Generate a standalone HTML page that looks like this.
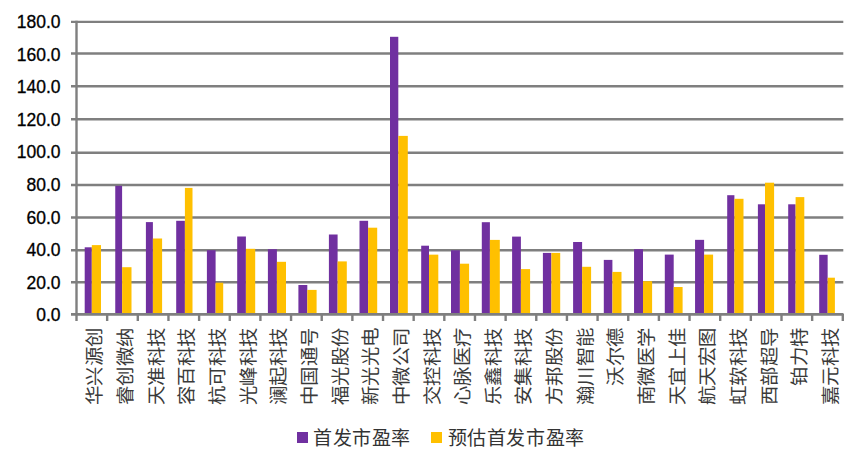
<!DOCTYPE html>
<html lang="zh-CN"><head><meta charset="utf-8">
<style>
html,body{margin:0;padding:0;background:#fff;}
body{width:865px;height:458px;overflow:hidden;position:relative;}
svg{position:absolute;left:0;top:0;}
.yl{font-family:"Liberation Sans",sans-serif;font-size:17.5px;fill:#000;stroke:#000;stroke-width:0.3px;}
.cl{font-family:"Liberation Serif",serif;font-size:20px;fill:#3a3a3a;}
.lg{font-family:"Liberation Serif",serif;font-size:19px;letter-spacing:0.55px;fill:#333;}
</style></head><body>
<svg width="865" height="458" viewBox="0 0 865 458">
<line x1="71" y1="314.3" x2="843.3" y2="314.3" stroke="#7f7f7f" stroke-width="2.4"/>
<line x1="71" y1="282.2" x2="843.3" y2="282.2" stroke="#7f7f7f" stroke-width="2.4"/>
<line x1="71" y1="250.2" x2="843.3" y2="250.2" stroke="#7f7f7f" stroke-width="2.4"/>
<line x1="71" y1="217.5" x2="843.3" y2="217.5" stroke="#7f7f7f" stroke-width="2.4"/>
<line x1="71" y1="185.0" x2="843.3" y2="185.0" stroke="#7f7f7f" stroke-width="2.4"/>
<line x1="71" y1="152.8" x2="843.3" y2="152.8" stroke="#7f7f7f" stroke-width="2.4"/>
<line x1="71" y1="119.2" x2="843.3" y2="119.2" stroke="#7f7f7f" stroke-width="2.4"/>
<line x1="71" y1="86.3" x2="843.3" y2="86.3" stroke="#7f7f7f" stroke-width="2.4"/>
<line x1="71" y1="53.5" x2="843.3" y2="53.5" stroke="#7f7f7f" stroke-width="2.4"/>
<line x1="71" y1="21.9" x2="843.3" y2="21.9" stroke="#7f7f7f" stroke-width="2.4"/>
<rect x="84.70" y="247.3" width="7.10" height="67.00" fill="#7030a0"/>
<rect x="91.80" y="245.1" width="9.20" height="69.20" fill="#ffc000"/>
<rect x="115.25" y="185.8" width="6.85" height="128.50" fill="#7030a0"/>
<rect x="122.10" y="267.2" width="9.40" height="47.10" fill="#ffc000"/>
<rect x="145.90" y="222.1" width="7.00" height="92.20" fill="#7030a0"/>
<rect x="152.90" y="238.5" width="9.20" height="75.80" fill="#ffc000"/>
<rect x="176.20" y="220.8" width="8.70" height="93.50" fill="#7030a0"/>
<rect x="184.90" y="187.9" width="7.60" height="126.40" fill="#ffc000"/>
<rect x="206.90" y="250.2" width="8.70" height="64.10" fill="#7030a0"/>
<rect x="215.60" y="282.7" width="7.60" height="31.60" fill="#ffc000"/>
<rect x="237.20" y="236.5" width="8.70" height="77.80" fill="#7030a0"/>
<rect x="245.90" y="248.8" width="9.30" height="65.50" fill="#ffc000"/>
<rect x="267.90" y="249.2" width="9.00" height="65.10" fill="#7030a0"/>
<rect x="276.90" y="261.8" width="9.10" height="52.50" fill="#ffc000"/>
<rect x="298.40" y="285.0" width="8.90" height="29.30" fill="#7030a0"/>
<rect x="307.30" y="289.9" width="9.30" height="24.40" fill="#ffc000"/>
<rect x="328.90" y="234.5" width="8.70" height="79.80" fill="#7030a0"/>
<rect x="337.60" y="261.4" width="9.20" height="52.90" fill="#ffc000"/>
<rect x="359.50" y="220.8" width="8.60" height="93.50" fill="#7030a0"/>
<rect x="368.10" y="227.7" width="9.10" height="86.60" fill="#ffc000"/>
<rect x="390.00" y="36.8" width="8.30" height="277.50" fill="#7030a0"/>
<rect x="398.30" y="135.9" width="9.50" height="178.40" fill="#ffc000"/>
<rect x="421.20" y="245.7" width="7.80" height="68.60" fill="#7030a0"/>
<rect x="429.00" y="254.65" width="9.30" height="59.65" fill="#ffc000"/>
<rect x="451.00" y="250.3" width="8.90" height="64.00" fill="#7030a0"/>
<rect x="459.90" y="263.7" width="9.20" height="50.60" fill="#ffc000"/>
<rect x="481.80" y="222.2" width="8.10" height="92.10" fill="#7030a0"/>
<rect x="489.90" y="239.9" width="9.90" height="74.40" fill="#ffc000"/>
<rect x="512.10" y="236.6" width="8.80" height="77.70" fill="#7030a0"/>
<rect x="520.90" y="269.1" width="9.20" height="45.20" fill="#ffc000"/>
<rect x="542.90" y="252.9" width="8.50" height="61.40" fill="#7030a0"/>
<rect x="551.40" y="252.9" width="8.80" height="61.40" fill="#ffc000"/>
<rect x="573.10" y="242.0" width="9.00" height="72.30" fill="#7030a0"/>
<rect x="582.10" y="266.8" width="9.00" height="47.50" fill="#ffc000"/>
<rect x="603.80" y="259.9" width="8.60" height="54.40" fill="#7030a0"/>
<rect x="612.40" y="271.9" width="9.10" height="42.40" fill="#ffc000"/>
<rect x="634.05" y="249.2" width="8.95" height="65.10" fill="#7030a0"/>
<rect x="643.00" y="281.2" width="9.10" height="33.10" fill="#ffc000"/>
<rect x="664.80" y="254.6" width="8.90" height="59.70" fill="#7030a0"/>
<rect x="673.70" y="287.0" width="8.90" height="27.30" fill="#ffc000"/>
<rect x="695.06" y="239.85" width="9.04" height="74.45" fill="#7030a0"/>
<rect x="704.10" y="254.6" width="9.00" height="59.70" fill="#ffc000"/>
<rect x="727.20" y="195.2" width="7.20" height="119.10" fill="#7030a0"/>
<rect x="734.40" y="198.8" width="9.10" height="115.50" fill="#ffc000"/>
<rect x="757.90" y="204.3" width="7.10" height="110.00" fill="#7030a0"/>
<rect x="765.00" y="182.7" width="9.10" height="131.60" fill="#ffc000"/>
<rect x="788.20" y="204.3" width="7.40" height="110.00" fill="#7030a0"/>
<rect x="795.60" y="197.1" width="8.70" height="117.20" fill="#ffc000"/>
<rect x="819.20" y="254.8" width="8.45" height="59.50" fill="#7030a0"/>
<rect x="827.65" y="277.7" width="7.25" height="36.60" fill="#ffc000"/>
<line x1="71" y1="314.3" x2="843.3" y2="314.3" stroke="#7f7f7f" stroke-width="2.4"/>
<line x1="76.5" y1="20.8" x2="76.5" y2="321" stroke="#7f7f7f" stroke-width="2.4"/>
<line x1="107.15" y1="314" x2="107.15" y2="321" stroke="#7f7f7f" stroke-width="2.4"/>
<line x1="137.80" y1="314" x2="137.80" y2="321" stroke="#7f7f7f" stroke-width="2.4"/>
<line x1="168.46" y1="314" x2="168.46" y2="321" stroke="#7f7f7f" stroke-width="2.4"/>
<line x1="199.11" y1="314" x2="199.11" y2="321" stroke="#7f7f7f" stroke-width="2.4"/>
<line x1="229.76" y1="314" x2="229.76" y2="321" stroke="#7f7f7f" stroke-width="2.4"/>
<line x1="260.41" y1="314" x2="260.41" y2="321" stroke="#7f7f7f" stroke-width="2.4"/>
<line x1="291.06" y1="314" x2="291.06" y2="321" stroke="#7f7f7f" stroke-width="2.4"/>
<line x1="321.72" y1="314" x2="321.72" y2="321" stroke="#7f7f7f" stroke-width="2.4"/>
<line x1="352.37" y1="314" x2="352.37" y2="321" stroke="#7f7f7f" stroke-width="2.4"/>
<line x1="383.02" y1="314" x2="383.02" y2="321" stroke="#7f7f7f" stroke-width="2.4"/>
<line x1="413.67" y1="314" x2="413.67" y2="321" stroke="#7f7f7f" stroke-width="2.4"/>
<line x1="444.32" y1="314" x2="444.32" y2="321" stroke="#7f7f7f" stroke-width="2.4"/>
<line x1="474.98" y1="314" x2="474.98" y2="321" stroke="#7f7f7f" stroke-width="2.4"/>
<line x1="505.63" y1="314" x2="505.63" y2="321" stroke="#7f7f7f" stroke-width="2.4"/>
<line x1="536.28" y1="314" x2="536.28" y2="321" stroke="#7f7f7f" stroke-width="2.4"/>
<line x1="566.93" y1="314" x2="566.93" y2="321" stroke="#7f7f7f" stroke-width="2.4"/>
<line x1="597.58" y1="314" x2="597.58" y2="321" stroke="#7f7f7f" stroke-width="2.4"/>
<line x1="628.24" y1="314" x2="628.24" y2="321" stroke="#7f7f7f" stroke-width="2.4"/>
<line x1="658.89" y1="314" x2="658.89" y2="321" stroke="#7f7f7f" stroke-width="2.4"/>
<line x1="689.54" y1="314" x2="689.54" y2="321" stroke="#7f7f7f" stroke-width="2.4"/>
<line x1="720.19" y1="314" x2="720.19" y2="321" stroke="#7f7f7f" stroke-width="2.4"/>
<line x1="750.84" y1="314" x2="750.84" y2="321" stroke="#7f7f7f" stroke-width="2.4"/>
<line x1="781.50" y1="314" x2="781.50" y2="321" stroke="#7f7f7f" stroke-width="2.4"/>
<line x1="812.15" y1="314" x2="812.15" y2="321" stroke="#7f7f7f" stroke-width="2.4"/>
<line x1="842.80" y1="314" x2="842.80" y2="321" stroke="#7f7f7f" stroke-width="2.4"/>
<text class="yl" x="60.6" y="321.2" text-anchor="end">0.0</text>
<text class="yl" x="60.6" y="288.6" text-anchor="end">20.0</text>
<text class="yl" x="60.6" y="256.0" text-anchor="end">40.0</text>
<text class="yl" x="60.6" y="223.5" text-anchor="end">60.0</text>
<text class="yl" x="60.6" y="190.9" text-anchor="end">80.0</text>
<text class="yl" x="60.6" y="158.3" text-anchor="end">100.0</text>
<text class="yl" x="60.6" y="125.7" text-anchor="end">120.0</text>
<text class="yl" x="60.6" y="93.1" text-anchor="end">140.0</text>
<text class="yl" x="60.6" y="60.6" text-anchor="end">160.0</text>
<text class="yl" x="60.6" y="28.0" text-anchor="end">180.0</text>
<text class="cl" transform="translate(101.33,327.5) rotate(-90) scale(0.97,0.92)" text-anchor="end">华兴源创</text>
<text class="cl" transform="translate(131.98,327.5) rotate(-90) scale(0.97,0.92)" text-anchor="end">睿创微纳</text>
<text class="cl" transform="translate(162.63,327.5) rotate(-90) scale(0.97,0.92)" text-anchor="end">天准科技</text>
<text class="cl" transform="translate(193.28,327.5) rotate(-90) scale(0.97,0.92)" text-anchor="end">容百科技</text>
<text class="cl" transform="translate(223.93,327.5) rotate(-90) scale(0.97,0.92)" text-anchor="end">杭可科技</text>
<text class="cl" transform="translate(254.59,327.5) rotate(-90) scale(0.97,0.92)" text-anchor="end">光峰科技</text>
<text class="cl" transform="translate(285.24,327.5) rotate(-90) scale(0.97,0.92)" text-anchor="end">澜起科技</text>
<text class="cl" transform="translate(315.89,327.5) rotate(-90) scale(0.97,0.92)" text-anchor="end">中国通号</text>
<text class="cl" transform="translate(346.54,327.5) rotate(-90) scale(0.97,0.92)" text-anchor="end">福光股份</text>
<text class="cl" transform="translate(377.19,327.5) rotate(-90) scale(0.97,0.92)" text-anchor="end">新光光电</text>
<text class="cl" transform="translate(407.85,327.5) rotate(-90) scale(0.97,0.92)" text-anchor="end">中微公司</text>
<text class="cl" transform="translate(438.50,327.5) rotate(-90) scale(0.97,0.92)" text-anchor="end">交控科技</text>
<text class="cl" transform="translate(469.15,327.5) rotate(-90) scale(0.97,0.92)" text-anchor="end">心脉医疗</text>
<text class="cl" transform="translate(499.80,327.5) rotate(-90) scale(0.97,0.92)" text-anchor="end">乐鑫科技</text>
<text class="cl" transform="translate(530.45,327.5) rotate(-90) scale(0.97,0.92)" text-anchor="end">安集科技</text>
<text class="cl" transform="translate(561.11,327.5) rotate(-90) scale(0.97,0.92)" text-anchor="end">方邦股份</text>
<text class="cl" transform="translate(591.76,327.5) rotate(-90) scale(0.97,0.92)" text-anchor="end">瀚川智能</text>
<text class="cl" transform="translate(622.41,327.5) rotate(-90) scale(0.97,0.92)" text-anchor="end">沃尔德</text>
<text class="cl" transform="translate(653.06,327.5) rotate(-90) scale(0.97,0.92)" text-anchor="end">南微医学</text>
<text class="cl" transform="translate(683.71,327.5) rotate(-90) scale(0.97,0.92)" text-anchor="end">天宜上佳</text>
<text class="cl" transform="translate(714.37,327.5) rotate(-90) scale(0.97,0.92)" text-anchor="end">航天宏图</text>
<text class="cl" transform="translate(745.02,327.5) rotate(-90) scale(0.97,0.92)" text-anchor="end">虹软科技</text>
<text class="cl" transform="translate(775.67,327.5) rotate(-90) scale(0.97,0.92)" text-anchor="end">西部超导</text>
<text class="cl" transform="translate(806.32,327.5) rotate(-90) scale(0.97,0.92)" text-anchor="end">铂力特</text>
<text class="cl" transform="translate(836.97,327.5) rotate(-90) scale(0.97,0.92)" text-anchor="end">嘉元科技</text>
<rect x="297" y="432" width="11" height="11" fill="#7030a0"/>
<text class="lg" x="313" y="444.8">首发市盈率</text>
<rect x="431" y="432" width="11" height="11" fill="#ffc000"/>
<text class="lg" x="447.8" y="444.8">预估首发市盈率</text>
</svg></body></html>
